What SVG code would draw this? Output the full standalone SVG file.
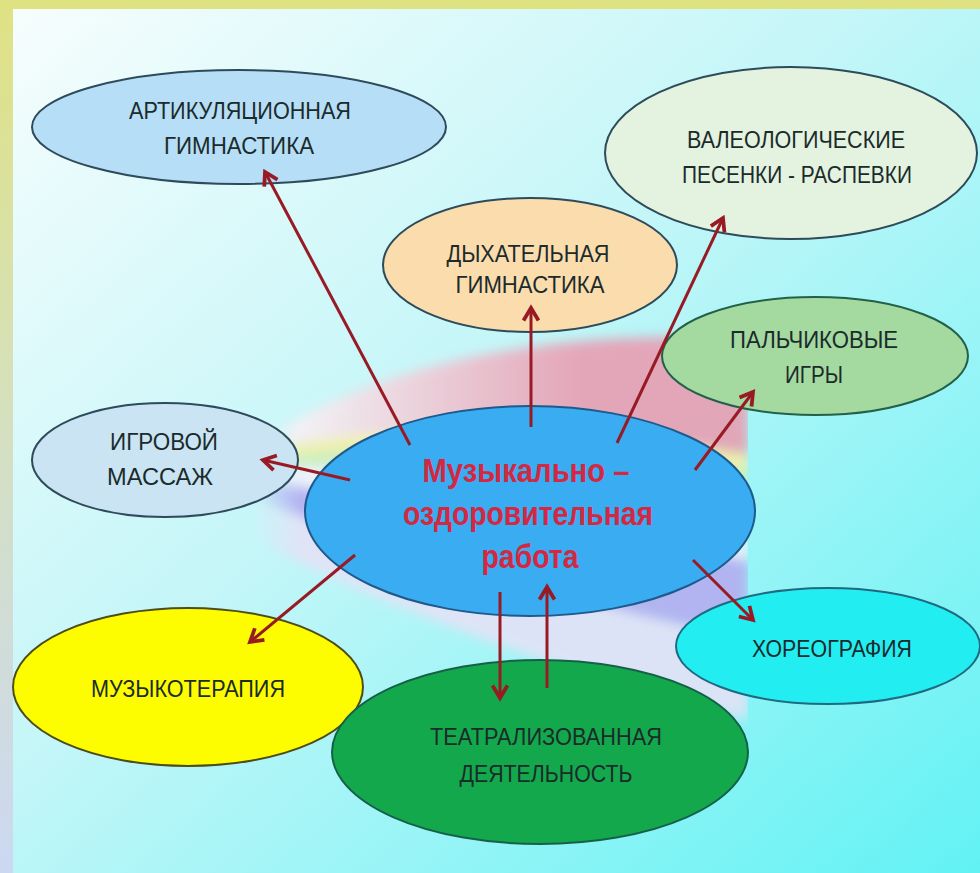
<svg xmlns="http://www.w3.org/2000/svg" width="980" height="873" viewBox="0 0 980 873">
<defs>
<linearGradient id="bg" x1="0" y1="0" x2="1" y2="1">
<stop offset="0" stop-color="#f8fdfd"/>
<stop offset="0.45" stop-color="#c4f6f8"/>
<stop offset="1" stop-color="#62f2f4"/>
</linearGradient>
<linearGradient id="lb" x1="0" y1="0" x2="0" y2="1">
<stop offset="0" stop-color="#dfe283"/>
<stop offset="0.5" stop-color="#d4e0c0"/>
<stop offset="1" stop-color="#ccd8f2"/>
</linearGradient>
<linearGradient id="pink" gradientUnits="userSpaceOnUse" x1="300" y1="0" x2="580" y2="0">
<stop offset="0" stop-color="#f6f0f4"/>
<stop offset="1" stop-color="#e89eb2"/>
</linearGradient>
<linearGradient id="fade" gradientUnits="userSpaceOnUse" x1="250" y1="0" x2="300" y2="0">
<stop offset="0" stop-color="#000"/>
<stop offset="1" stop-color="#fff"/>
</linearGradient>
<mask id="rm"><rect x="250" y="300" width="500" height="450" fill="url(#fade)"/></mask>
<clipPath id="rc"><rect x="240" y="300" width="508" height="450"/></clipPath>
<filter id="blur" x="-10%" y="-10%" width="120%" height="120%"><feGaussianBlur stdDeviation="6"/></filter>
<marker id="ah" markerUnits="userSpaceOnUse" markerWidth="20" markerHeight="20" refX="0" refY="0" viewBox="-12 -8 14 16" orient="auto">
<path d="M-10,-6 L0,0 L-10,6" fill="none" stroke="#981a24" stroke-width="3" stroke-linejoin="miter"/>
</marker>
</defs>
<style>
.n{stroke-width:2}
.t{font-family:"Liberation Sans",Arial,sans-serif;font-size:24px;fill:#1b2b2b;text-anchor:middle}
.c{font-family:"Liberation Sans",Arial,sans-serif;font-size:34px;font-weight:bold;fill:#d42842;text-anchor:middle}
.a{stroke:#981a24;stroke-width:3;fill:none;marker-end:url(#ah)}
</style>
<rect x="0" y="0" width="980" height="873" fill="url(#bg)"/>
<rect x="0" y="0" width="13" height="873" fill="url(#lb)"/>
<rect x="0" y="0" width="980" height="9" fill="#dee280"/>
<g id="ribbon" clip-path="url(#rc)">
<g mask="url(#rm)" filter="url(#blur)" opacity="0.9">
<path d="M255,445 Q430,325 748,338 L748,455 Q470,405 255,452 Z" fill="url(#pink)"/>
<path d="M255,452 Q470,405 748,455 L748,472 Q470,432 255,460 Z" fill="#f4f0a4"/>
<path d="M255,460 Q470,432 748,472 L748,490 Q470,460 255,468 Z" fill="#c6efb8"/>
<path d="M255,468 Q470,460 748,490 L748,560 Q470,520 255,478 Z" fill="#f2f2fb"/>
<path d="M255,478 Q470,520 748,560 L748,640 Q470,580 255,500 Z" fill="#b4aef0"/>
<path d="M255,500 Q470,580 748,640 L748,720 Q470,650 255,540 Z" fill="#e4e2f6"/>
</g>
</g>
<g id="n-artic">
<ellipse class="n" cx="239" cy="127" rx="207" ry="57" fill="#b6def6" stroke="#2d4b5a"/>
<text class="t" x="240" y="119" textLength="222" lengthAdjust="spacingAndGlyphs">АРТИКУЛЯЦИОННАЯ</text>
<text class="t" x="239" y="154" textLength="150" lengthAdjust="spacingAndGlyphs">ГИМНАСТИКА</text>
</g>
<g id="n-valeo">
<ellipse class="n" cx="791" cy="153" rx="186" ry="86" fill="#e3f3df" stroke="#2d4b5a"/>
<text class="t" x="796" y="148" textLength="218" lengthAdjust="spacingAndGlyphs">ВАЛЕОЛОГИЧЕСКИЕ</text>
<text class="t" x="797" y="183" textLength="230" lengthAdjust="spacingAndGlyphs">ПЕСЕНКИ - РАСПЕВКИ</text>
</g>
<g id="n-dyh">
<ellipse class="n" cx="530" cy="265" rx="147" ry="67" fill="#fbdcad" stroke="#2d4b5a"/>
<text class="t" x="528" y="262" textLength="163" lengthAdjust="spacingAndGlyphs">ДЫХАТЕЛЬНАЯ</text>
<text class="t" x="530" y="293" textLength="149" lengthAdjust="spacingAndGlyphs">ГИМНАСТИКА</text>
</g>
<g id="n-palch">
<ellipse class="n" cx="815" cy="356" rx="153" ry="59" fill="#a4d9a0" stroke="#23604a"/>
<text class="t" x="814" y="348" textLength="168" lengthAdjust="spacingAndGlyphs">ПАЛЬЧИКОВЫЕ</text>
<text class="t" x="814" y="383" textLength="58" lengthAdjust="spacingAndGlyphs">ИГРЫ</text>
</g>
<g id="n-igr">
<ellipse class="n" cx="165" cy="460" rx="133" ry="57" fill="#cae4f4" stroke="#2d4b5a"/>
<text class="t" x="164" y="450" textLength="108" lengthAdjust="spacingAndGlyphs">ИГРОВОЙ</text>
<text class="t" x="160" y="485" textLength="106" lengthAdjust="spacingAndGlyphs">МАССАЖ</text>
</g>
<g id="n-muzter">
<ellipse class="n" cx="188" cy="687" rx="175" ry="79" fill="#fdfd00" stroke="#4d4d1a"/>
<text class="t" x="188" y="697" textLength="194" lengthAdjust="spacingAndGlyphs">МУЗЫКОТЕРАПИЯ</text>
</g>
<g id="n-teatr">
<ellipse class="n" cx="540" cy="752" rx="208" ry="92" fill="#13a84b" stroke="#16604a"/>
<text class="t" x="546" y="745" textLength="232" lengthAdjust="spacingAndGlyphs" fill="#10301a">ТЕАТРАЛИЗОВАННАЯ</text>
<text class="t" x="546" y="782" textLength="173" lengthAdjust="spacingAndGlyphs" fill="#10301a">ДЕЯТЕЛЬНОСТЬ</text>
</g>
<g id="n-horeo">
<ellipse class="n" cx="828" cy="646" rx="152" ry="58" fill="#22eef2" stroke="#1f6a80"/>
<text class="t" x="832" y="657" textLength="160" lengthAdjust="spacingAndGlyphs">ХОРЕОГРАФИЯ</text>
</g>
<g id="n-center">
<ellipse class="n" cx="530" cy="511" rx="225" ry="105" fill="#3aacf1" stroke="#1e5a8c"/>
<text class="c" x="526" y="482" textLength="207" lengthAdjust="spacingAndGlyphs">Музыкально –</text>
<text class="c" x="528" y="525" textLength="250" lengthAdjust="spacingAndGlyphs">оздоровительная</text>
<text class="c" x="530" y="568" textLength="97" lengthAdjust="spacingAndGlyphs">работа</text>
</g>
<g id="connectors">
<line class="a" x1="410" y1="445" x2="265" y2="172"/>
<line class="a" x1="531" y1="427" x2="531" y2="308"/>
<line class="a" x1="617" y1="443" x2="723" y2="218"/>
<line class="a" x1="695" y1="470" x2="753" y2="392"/>
<line class="a" x1="350" y1="480" x2="263" y2="460"/>
<line class="a" x1="693" y1="560" x2="753" y2="620"/>
<line class="a" x1="355" y1="555" x2="250" y2="642"/>
<line class="a" x1="500" y1="592" x2="500" y2="698"/>
<line class="a" x1="547" y1="688" x2="547" y2="587"/>
</g>
</svg>
